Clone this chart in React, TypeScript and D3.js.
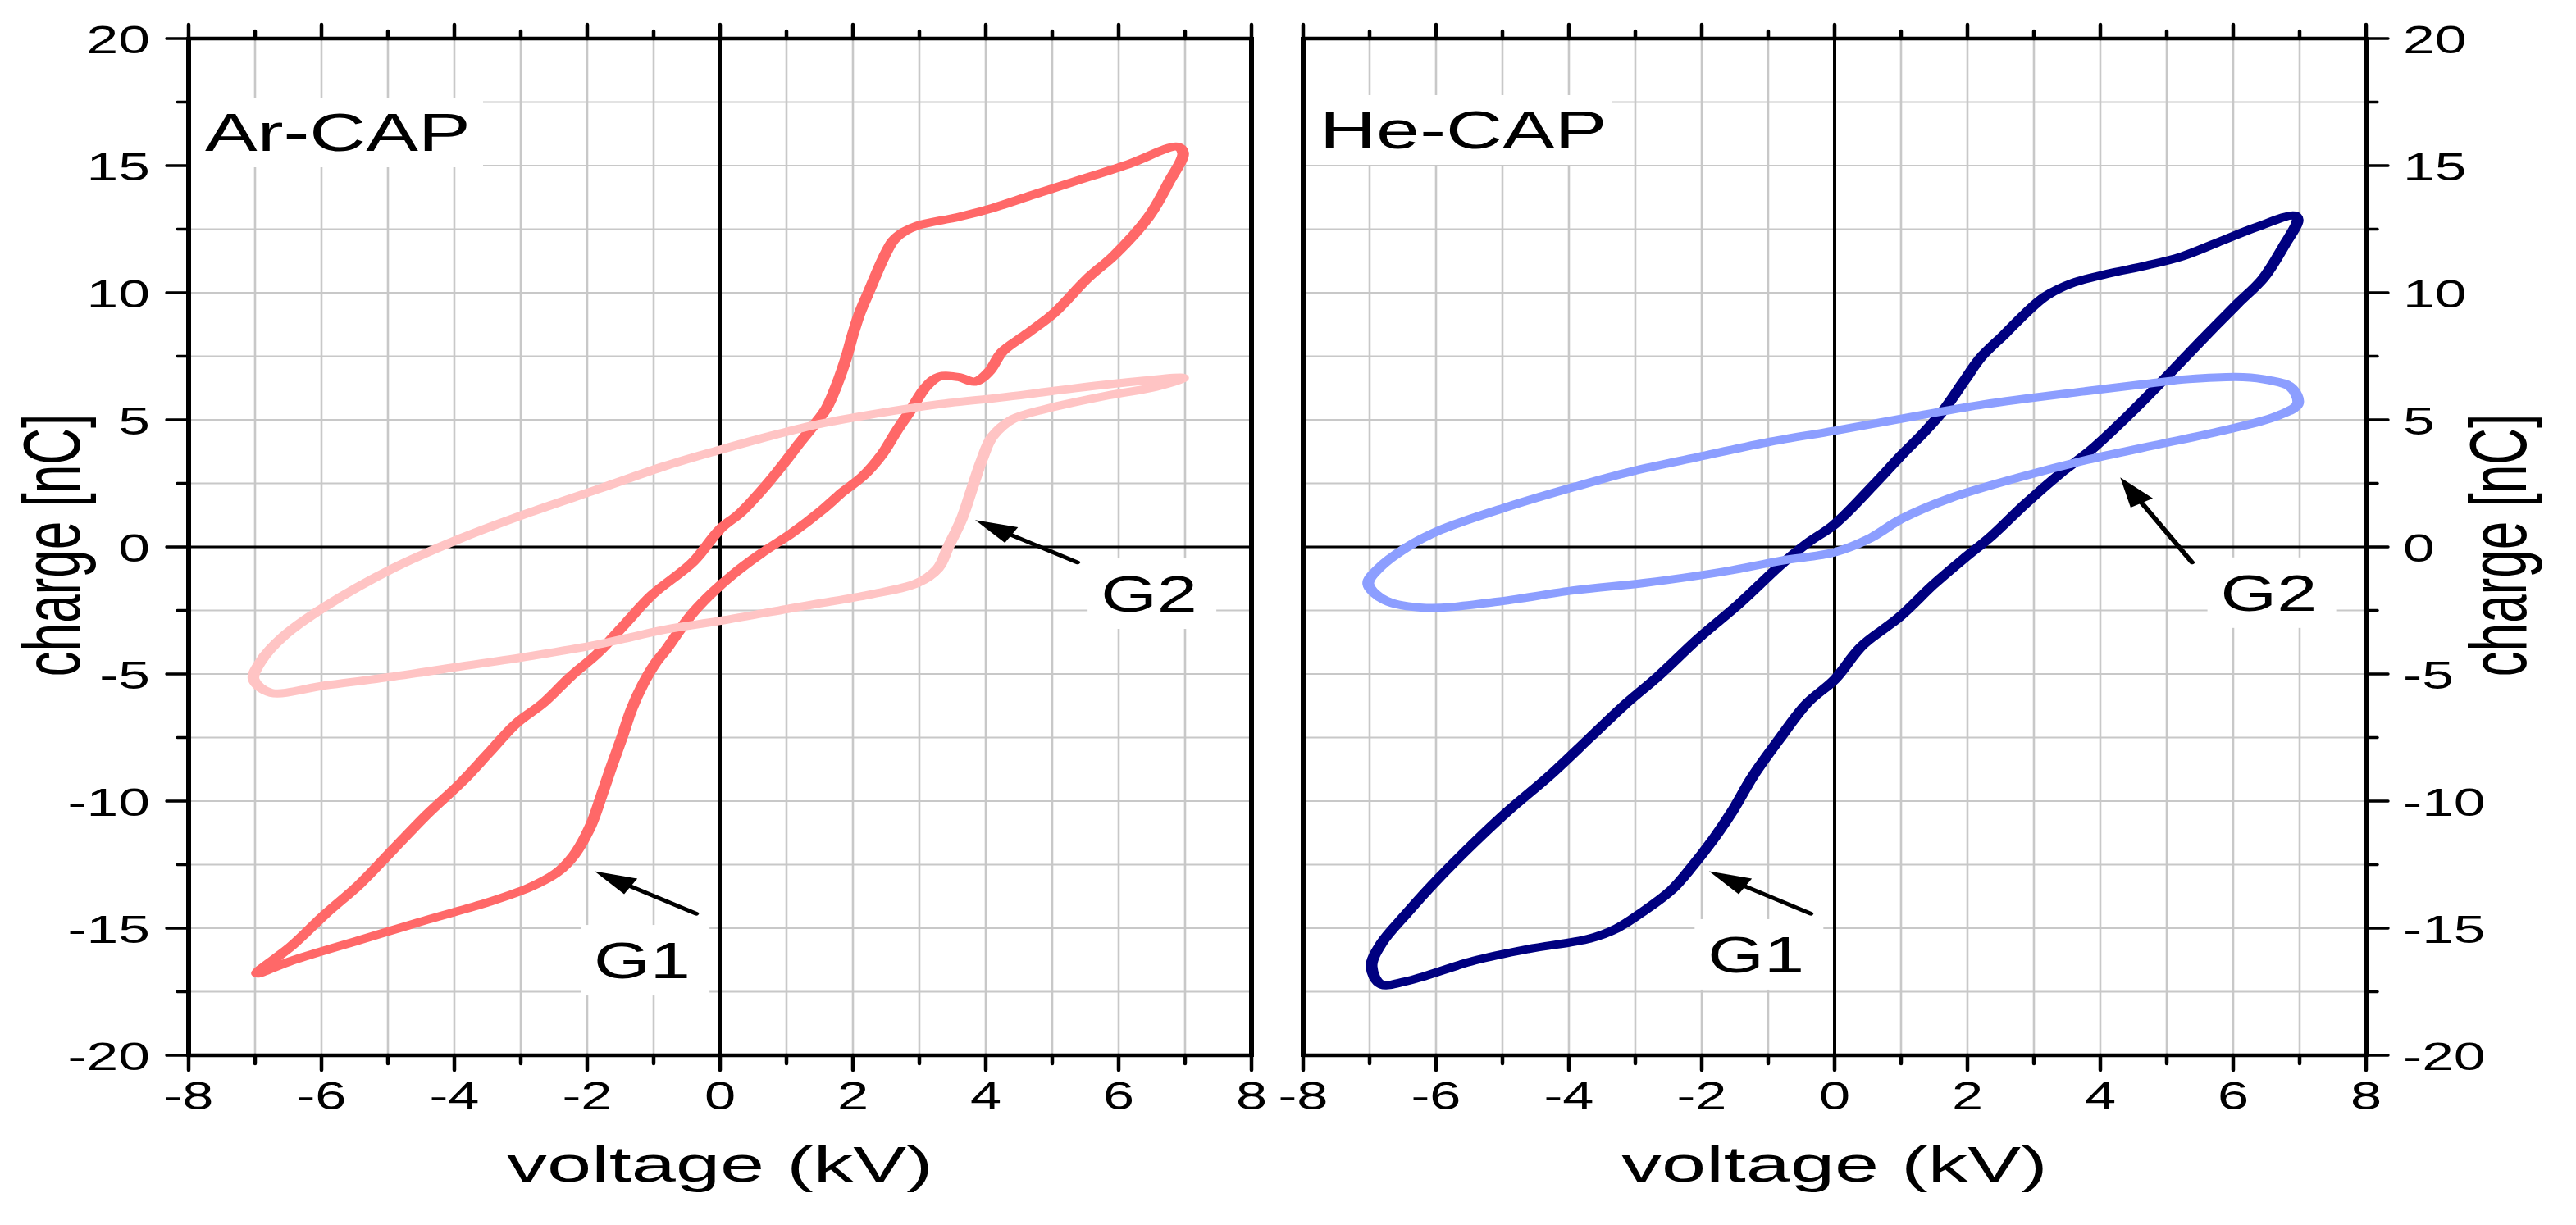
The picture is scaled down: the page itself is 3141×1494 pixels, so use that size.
import React from "react";
import * as d3 from "d3";

type Pt = [number, number];

// ---------- data (voltage kV, charge nC) ----------
const voltageTicks = [-8, -6, -4, -2, 0, 2, 4, 6, 8];
const chargeTicks = [-20, -15, -10, -5, 0, 5, 10, 15, 20];

const arG1: Pt[] = [
  [6.88, 15.75], [6.15, 15.06], [5.33, 14.37], [4.71, 13.85], [4.1, 13.33], [3.59, 12.98],
  [2.97, 12.64], [2.77, 12.4], [2.61, 12.06], [2.46, 11.37], [2.25, 10.1], [2.1, 9.18],
  [2.0, 8.37], [1.9, 7.45], [1.76, 6.4], [1.6, 5.45], [1.4, 4.75], [1.2, 4.1],
  [0.98, 3.35], [0.7, 2.45], [0.31, 1.35], [0.0, 0.7], [-0.41, -0.6], [-1.02, -1.88],
  [-1.43, -3.03], [-1.84, -4.18], [-2.25, -5.1], [-2.66, -6.14], [-3.07, -6.95],
  [-3.48, -8.1], [-3.89, -9.25], [-4.41, -10.52], [-4.92, -11.9], [-5.43, -13.28],
  [-5.94, -14.44], [-6.45, -15.7], [-6.97, -16.78],
  [-6.45, -16.28], [-5.43, -15.47], [-4.41, -14.67], [-3.48, -13.97], [-2.87, -13.4],
  [-2.46, -12.82], [-2.2, -12.13], [-1.95, -10.98], [-1.79, -9.83], [-1.64, -8.68],
  [-1.48, -7.52], [-1.33, -6.37], [-1.16, -5.4], [-0.98, -4.6], [-0.8, -4.0],
  [-0.6, -3.25], [-0.4, -2.57], [-0.1, -1.76], [0.2, -1.07], [0.61, -0.27],
  [1.08, 0.54], [1.54, 1.46], [1.84, 2.15], [2.15, 2.78], [2.44, 3.65], [2.66, 4.57],
  [2.87, 5.38], [3.1, 6.3], [3.3, 6.7], [3.59, 6.68], [3.84, 6.5], [4.05, 6.9],
  [4.25, 7.68], [4.61, 8.37], [5.02, 9.18], [5.53, 10.56], [5.94, 11.49], [6.45, 12.98],
  [6.76, 14.37], [6.97, 15.5],
];

const arG2: Pt[] = [
  [6.97, 6.65], [6.35, 6.53], [5.33, 6.24], [4.3, 5.9], [3.28, 5.61], [2.25, 5.2],
  [1.43, 4.8], [0.72, 4.34], [0.0, 3.82], [-0.82, 3.19], [-1.84, 2.27], [-2.87, 1.35],
  [-3.89, 0.35], [-4.92, -0.84], [-5.94, -2.34], [-6.56, -3.49], [-6.92, -4.53],
  [-7.02, -5.22], [-6.76, -5.74], [-5.94, -5.45], [-4.92, -5.1], [-3.89, -4.7],
  [-2.87, -4.3], [-1.84, -3.84], [-0.82, -3.25], [0.0, -2.91], [1.23, -2.34],
  [2.25, -1.88], [2.97, -1.42], [3.28, -0.84], [3.43, -0.03], [3.64, 1.12], [3.79, 2.27],
  [3.94, 3.42], [4.1, 4.34], [4.41, 5.03], [4.92, 5.44], [5.84, 5.96], [6.56, 6.3],
];

const heG1: Pt[] = [
  [6.92, 13.04], [6.35, 12.58], [5.74, 11.95], [5.23, 11.43], [4.71, 11.08], [4.1, 10.74],
  [3.59, 10.39], [3.18, 9.87], [2.87, 9.18], [2.56, 8.37], [2.2, 7.45], [1.95, 6.53],
  [1.64, 5.38], [1.33, 4.46], [1.02, 3.65], [0.61, 2.5], [0.0, 0.89], [-0.41, 0.15],
  [-0.82, -0.73], [-1.43, -2.22], [-2.05, -3.6], [-2.66, -5.1], [-3.18, -6.26],
  [-3.69, -7.52], [-4.3, -9.02], [-4.92, -10.4], [-5.53, -11.9], [-6.05, -13.28],
  [-6.45, -14.44], [-6.82, -15.59], [-6.97, -16.51], [-6.82, -17.22], [-6.45, -17.09],
  [-5.43, -16.28], [-4.61, -15.82], [-3.69, -15.41], [-3.28, -15.01], [-2.87, -14.32],
  [-2.46, -13.51], [-2.15, -12.59], [-1.84, -11.55], [-1.54, -10.4], [-1.23, -9.02],
  [-0.82, -7.52], [-0.41, -6.14], [0.0, -5.22], [0.41, -3.9], [0.98, -2.75],
  [1.48, -1.5], [1.95, -0.45], [2.35, 0.4], [2.87, 1.69], [3.38, 2.85], [3.89, 3.88],
  [4.5, 5.38], [5.02, 6.76], [5.53, 8.15], [6.05, 9.53], [6.45, 10.56], [6.76, 11.83],
  [6.97, 12.87],
];

const heG2: Pt[] = [
  [6.97, 5.61], [6.86, 6.3], [6.56, 6.55], [6.15, 6.68], [5.33, 6.6], [4.71, 6.42],
  [3.79, 6.13], [2.25, 5.61], [1.23, 5.15], [0.0, 4.57], [-1.02, 4.11], [-2.05, 3.54],
  [-3.07, 2.96], [-3.89, 2.38], [-4.92, 1.58], [-5.94, 0.66], [-6.45, -0.03],
  [-6.86, -0.84], [-7.02, -1.45], [-6.76, -2.11], [-6.15, -2.4], [-5.12, -2.17],
  [-3.89, -1.7], [-2.87, -1.42], [-1.64, -0.96], [-0.82, -0.55], [0.0, -0.21],
  [0.51, 0.31], [1.02, 1.12], [1.74, 1.92], [2.77, 2.73], [3.79, 3.42], [4.82, 4.0],
  [5.84, 4.57], [6.66, 5.15],
];

// annotation anchors (data coords): arrow tail, arrow head, label start/baseline
const arArrowG1 = { tail: [-0.36, -14.43] as Pt, head: [-1.89, -12.76] as Pt };
const arArrowG2 = { tail: [5.38, -0.61] as Pt, head: [3.84, 1.06] as Pt };
const heArrowG1 = { tail: [-0.36, -14.43] as Pt, head: [-1.89, -12.76] as Pt };
const heArrowG2 = { tail: [5.38, -0.61] as Pt, head: [4.3, 2.73] as Pt };
const arLabelG1: Pt = [-1.9, -16.97];
const arLabelG2: Pt = [5.73, -2.55];
const heLabelG1: Pt = [-1.91, -16.74];
const heLabelG2: Pt = [5.81, -2.51];

// ---------- layout ----------
const W = 3141;
const H = 1494;
const SX = 1.43; // horizontal stretch of the picture
const FONT = "'Liberation Sans', Arial, Helvetica, sans-serif";
const yScale = d3.scaleLinear().domain([-20, 20]).range([1287, 47]);
const xLeft = d3.scaleLinear().domain([-8, 8]).range([230, 1526]);
const xRight = d3.scaleLinear().domain([-8, 8]).range([1589, 2885]);

function Txt(props: {
  x: number; y: number; sx: number; size: number; anchor?: string; rot?: boolean; children: React.ReactNode;
}) {
  const { x, y, sx, size, anchor = "start", rot = false, children } = props;
  return (
    <text
      transform={`translate(${x},${y}) scale(${sx},1)${rot ? " rotate(-90)" : ""}`}
      fontSize={size}
      fontFamily={FONT}
      textAnchor={anchor}
      fill="#000"
    >
      {children}
    </text>
  );
}

function Arrow({ xs, tail, head }: { xs: d3.ScaleLinear<number, number>; tail: Pt; head: Pt }) {
  const tx = xs(tail[0]) / SX, ty = yScale(tail[1]);
  const hx = xs(head[0]) / SX, hy = yScale(head[1]);
  const len = Math.hypot(hx - tx, hy - ty);
  const ux = (hx - tx) / len, uy = (hy - ty) / len;
  const L = 36, Wd = 11;
  const bx = hx - ux * L, by = hy - uy * L;
  const nx = -uy, ny = ux;
  return (
    <g>
      <line x1={tx} y1={ty} x2={bx + ux * 4} y2={by + uy * 4} stroke="#000" strokeWidth={4.6} strokeLinecap="round" />
      <polygon
        points={`${hx},${hy} ${bx + nx * Wd},${by + ny * Wd} ${bx - nx * Wd},${by - ny * Wd}`}
        fill="#000"
      />
    </g>
  );
}

function Panel(props: {
  xs: d3.ScaleLinear<number, number>;
  side: "left" | "right";
  g1: Pt[]; g2: Pt[]; c1: string; c2: string;
  title: string; titleBoxW: number;
  arrow1: { tail: Pt; head: Pt }; arrow2: { tail: Pt; head: Pt };
  lab1: Pt; lab2: Pt;
}) {
  const { xs, side, g1, g2, c1, c2, title, titleBoxW, arrow1, arrow2, lab1, lab2 } = props;
  const [x0, x1] = xs.range();
  const y0 = yScale(20), y1 = yScale(-20);
  const gridX = d3.range(-7, 8, 1);
  const gridY = d3.range(-17.5, 17.6, 2.5).filter((v) => Math.abs(v) > 0.01);
  const minorX = d3.range(-7, 8, 2);
  const minorY = d3.range(-17.5, 17.6, 5);
  const line = d3
    .line<Pt>()
    .x((d) => xs(d[0]) / SX)
    .y((d) => yScale(d[1]))
    .curve(d3.curveCatmullRomClosed.alpha(0.5));

  const titleX = x0 + 20;
  const titleBase = side === "left" ? 184 : 181;
  const labels = [lab1, lab2];

  return (
    <g>
      {/* grid */}
      {gridX.map((v) => (
        <line key={"gx" + v} x1={xs(v)} x2={xs(v)} y1={y0} y2={y1} stroke="#c8c8c8" strokeWidth={2.6} />
      ))}
      {gridY.map((v) => (
        <line key={"gy" + v} x1={x0} x2={x1} y1={yScale(v)} y2={yScale(v)} stroke="#c8c8c8" strokeWidth={2} />
      ))}
      {/* label backgrounds */}
      <rect x={titleX - 18} y={titleBase - 65} width={titleBoxW} height={85} fill="#fff" />
      {labels.map((p, i) => (
        <rect key={"lb" + i} x={xs(p[0]) - 16} y={yScale(p[1]) - 65} width={157} height={86} fill="#fff" />
      ))}
      {/* zero lines */}
      <line x1={xs(0)} x2={xs(0)} y1={y0} y2={y1} stroke="#000" strokeWidth={4} />
      <line x1={x0} x2={x1} y1={yScale(0)} y2={yScale(0)} stroke="#000" strokeWidth={3} />
      {/* curves */}
      <g transform={`scale(${SX},1)`}>
        <path d={line(g1) ?? ""} fill="none" stroke={c1} strokeWidth={10} strokeLinejoin="round" />
        <path d={line(g2) ?? ""} fill="none" stroke={c2} strokeWidth={10} strokeLinejoin="round" />
        <Arrow xs={xs} tail={arrow1.tail} head={arrow1.head} />
        <Arrow xs={xs} tail={arrow2.tail} head={arrow2.head} />
      </g>
      {/* axes frame */}
      <line x1={x0} x2={x1} y1={y0} y2={y0} stroke="#000" strokeWidth={4.5} />
      <line x1={x0} x2={x1} y1={y1} y2={y1} stroke="#000" strokeWidth={4.5} />
      <line x1={x0} x2={x0} y1={y0 - 2} y2={y1 + 2} stroke="#000" strokeWidth={6} />
      <line x1={x1} x2={x1} y1={y0 - 2} y2={y1 + 2} stroke="#000" strokeWidth={6} />
      {/* x ticks top & bottom */}
      {voltageTicks.map((v) => (
        <g key={"xt" + v}>
          <line x1={xs(v)} x2={xs(v)} y1={y1} y2={y1 + 18} stroke="#000" strokeWidth={4.5} strokeLinecap="round" />
          <line x1={xs(v)} x2={xs(v)} y1={y0} y2={y0 - 17} stroke="#000" strokeWidth={4.5} strokeLinecap="round" />
        </g>
      ))}
      {minorX.map((v) => (
        <g key={"xm" + v}>
          <line x1={xs(v)} x2={xs(v)} y1={y1} y2={y1 + 10} stroke="#000" strokeWidth={4.5} strokeLinecap="round" />
          <line x1={xs(v)} x2={xs(v)} y1={y0} y2={y0 - 9} stroke="#000" strokeWidth={4.5} strokeLinecap="round" />
        </g>
      ))}
      {/* y ticks on outer side */}
      {chargeTicks.map((v) => {
        const xa = side === "left" ? x0 : x1;
        const dir = side === "left" ? -1 : 1;
        return (
          <line key={"yt" + v} x1={xa} x2={xa + dir * 27} y1={yScale(v)} y2={yScale(v)} stroke="#000" strokeWidth={3.4} strokeLinecap="round" />
        );
      })}
      {minorY.map((v) => {
        const xa = side === "left" ? x0 : x1;
        const dir = side === "left" ? -1 : 1;
        return (
          <line key={"ym" + v} x1={xa} x2={xa + dir * 14} y1={yScale(v)} y2={yScale(v)} stroke="#000" strokeWidth={3.4} strokeLinecap="round" />
        );
      })}
      {/* tick labels */}
      {voltageTicks.map((v) => (
        <Txt key={"xl" + v} x={xs(v)} y={1353} sx={1.4} size={49} anchor="middle">
          {String(v)}
        </Txt>
      ))}
      {chargeTicks.map((v) =>
        side === "left" ? (
          <Txt key={"yl" + v} x={183} y={yScale(v) + 17.5} sx={1.42} size={49} anchor="end">
            {String(v)}
          </Txt>
        ) : (
          <Txt key={"yl" + v} x={2930} y={yScale(v) + 17.5} sx={1.42} size={49} anchor="start">
            {String(v)}
          </Txt>
        )
      )}
      {/* axis titles */}
      <Txt x={xs(0)} y={1441} sx={1.57} size={62} anchor="middle">voltage (kV)</Txt>
      <Txt x={side === "left" ? 97 : 3080} y={665} sx={1.58} size={62} anchor="middle" rot>
        charge [nC]
      </Txt>
      {/* in-plot labels */}
      <Txt x={titleX} y={titleBase} sx={1.47} size={65}>{title}</Txt>
      <Txt x={xs(lab1[0])} y={yScale(lab1[1])} sx={1.4} size={63}>G1</Txt>
      <Txt x={xs(lab2[0])} y={yScale(lab2[1])} sx={1.4} size={63}>G2</Txt>
    </g>
  );
}

export default function App() {
  return (
    <svg
      width={W}
      height={H}
      viewBox={`0 0 ${W} ${H}`}
      style={{ position: "absolute", left: 0, top: 0, background: "#fff" }}
    >
      <rect x={0} y={0} width={W} height={H} fill="#fff" />
      <Panel
        xs={xLeft}
        side="left"
        g1={arG1}
        g2={arG2}
        c1="#ff6868"
        c2="#ffc4c4"
        title="Ar-CAP"
        titleBoxW={357}
        arrow1={arArrowG1}
        arrow2={arArrowG2}
        lab1={arLabelG1}
        lab2={arLabelG2}
      />
      <Panel
        xs={xRight}
        side="right"
        g1={heG1}
        g2={heG2}
        c1="#000080"
        c2="#8c9eff"
        title="He-CAP"
        titleBoxW={375}
        arrow1={heArrowG1}
        arrow2={heArrowG2}
        lab1={heLabelG1}
        lab2={heLabelG2}
      />
    </svg>
  );
}
